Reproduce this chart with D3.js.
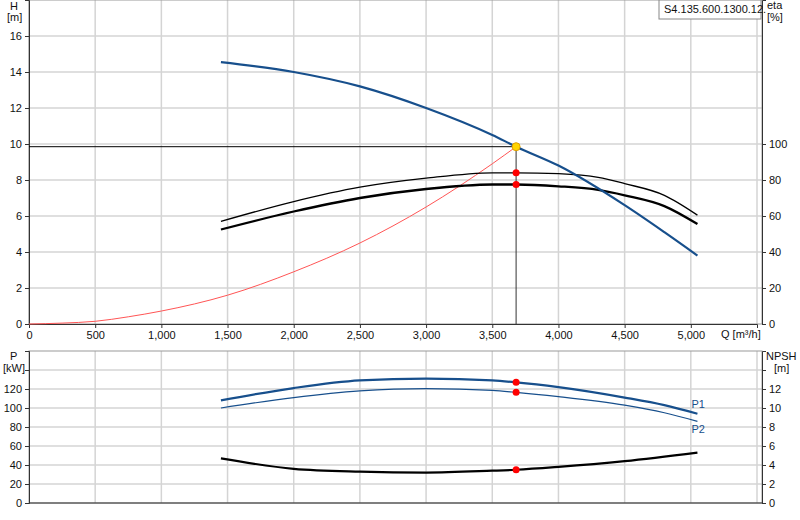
<!DOCTYPE html>
<html><head><meta charset="utf-8">
<script src="https://cdn.jsdelivr.net/npm/d3@7"></script>
<style>
body{margin:0;background:#fff;}
text{font-family:"Liberation Sans",Arial,sans-serif;font-size:11px;fill:#111;}
.grid line{stroke:#d4d4d4;stroke-width:1.5;}
.axis path,.axis line{stroke:#333;}
</style></head><body>
<script>
// data
var qH   = [1450, 2000, 2500, 3000, 3500, 3680, 4000, 4500, 4800, 5050];
var head = [14.55, 14.0, 13.2, 12.0, 10.5, 9.85, 8.8, 6.6, 5.1, 3.8];

var qEta = [1450, 2000, 2500, 3000, 3500, 3680, 4000, 4300, 4500, 4800, 5050];
var etaHyd = [57, 68, 76, 81, 84, 84, 83.5, 81.5, 78, 71.5, 60.5];
var etaTot = [52.5, 62.5, 70, 75, 77.5, 77.5, 76.5, 74.5, 71.5, 65.5, 55.5];

var qSys = [0, 250, 500, 750, 1000, 1500, 2000, 2500, 3000, 3500, 3680];
var hSys = [0, 0.05, 0.15, 0.4, 0.72, 1.6, 2.9, 4.5, 6.5, 8.9, 9.85];

var qP = [1450, 2000, 2500, 3000, 3500, 3680, 4000, 4500, 4800, 5050];
var p1 = [108, 121, 129, 131, 129, 127, 122, 111, 103, 94];
var p2 = [100, 111, 118, 120.5, 118.5, 116.5, 112, 103, 95, 86];
var qN = [1450, 2000, 2500, 3000, 3500, 3680, 4000, 4500, 5050];
var npsh = [4.7, 3.6, 3.3, 3.2, 3.4, 3.5, 3.8, 4.4, 5.3];

var duty = {q: 3680, h: 9.85, eta1: 84, eta2: 77.5, p1: 127, p2: 116.5, npsh: 3.5};
var qTicks = [0, 500, 1000, 1500, 2000, 2500, 3000, 3500, 4000, 4500, 5000];

(function () {
var svg = d3.select("body").append("svg").attr("width", 800).attr("height", 520);

var x = d3.scaleLinear().domain([0, 5500]).range([29, 757]);
var yH = d3.scaleLinear().domain([0, 18]).range([324, 0]);
var yEta = d3.scaleLinear().domain([0, 180]).range([324, 0]);
var yP = d3.scaleLinear().domain([0, 160]).range([503, 351]);
var yN = d3.scaleLinear().domain([0, 16]).range([503, 351]);

function zip(xs, ys){ return xs.map(function(v, i){ return [v, ys[i]]; }); }
var line = function(ys){ return d3.line().curve(d3.curveMonotoneX).x(function(d){ return x(d[0]); }).y(function(d){ return ys(d[1]); }); };

// ----- top panel -----
var topG = svg.append("g");
topG.append("g").attr("class", "grid").selectAll("line").data(qTicks.concat([5500])).enter().append("line")
  .attr("x1", x).attr("x2", x).attr("y1", 0).attr("y2", 324);
topG.append("g").attr("class", "grid").selectAll("line").data(d3.range(2, 18, 2)).enter().append("line")
  .attr("x1", 29).attr("x2", 762).attr("y1", yH).attr("y2", yH);
topG.append("rect").attr("x", 29).attr("y", 0).attr("width", 733).attr("height", 324)
  .attr("fill", "none").attr("stroke", "#999");

topG.append("g").attr("class", "axis").attr("transform", "translate(29,0)")
  .call(d3.axisLeft(yH).tickValues(d3.range(0, 18, 2)).tickSize(4).tickFormat(d3.format("d")));
topG.append("g").attr("class", "axis").attr("transform", "translate(0,324)")
  .call(d3.axisBottom(x).tickValues(qTicks).tickSize(4).tickFormat(d3.format(",")));
topG.append("g").attr("class", "axis").attr("transform", "translate(762,0)")
  .call(d3.axisRight(yEta).tickValues(d3.range(0, 120, 20)).tickSize(4));

topG.append("path").attr("d", line(yH)(zip(qSys, hSys))).attr("fill", "none").attr("stroke", "#ff5555").attr("stroke-width", 1);
topG.append("line").attr("x1", 29).attr("x2", x(duty.q)).attr("y1", yH(duty.h)).attr("y2", yH(duty.h)).attr("stroke", "#000");
topG.append("line").attr("x1", x(duty.q)).attr("x2", x(duty.q)).attr("y1", yH(duty.h)).attr("y2", 324).attr("stroke", "#333");
topG.append("path").attr("d", line(yEta)(zip(qEta, etaHyd))).attr("fill", "none").attr("stroke", "#000").attr("stroke-width", 1.3);
topG.append("path").attr("d", line(yEta)(zip(qEta, etaTot))).attr("fill", "none").attr("stroke", "#000").attr("stroke-width", 2.3);
topG.append("path").attr("d", line(yH)(zip(qH, head))).attr("fill", "none").attr("stroke", "#174f8c").attr("stroke-width", 2.2);

topG.append("circle").attr("cx", x(duty.q)).attr("cy", yEta(duty.eta1)).attr("r", 3.5).attr("fill", "red");
topG.append("circle").attr("cx", x(duty.q)).attr("cy", yEta(duty.eta2)).attr("r", 3.5).attr("fill", "red");
topG.append("circle").attr("cx", x(duty.q)).attr("cy", yH(duty.h)).attr("r", 4).attr("fill", "#ffd400").attr("stroke", "#e0a000");

topG.append("text").attr("x", 10).attr("y", 10).text("H");
topG.append("text").attr("x", 7).attr("y", 21).text("[m]");
topG.append("text").attr("x", 767).attr("y", 9).text("eta");
topG.append("text").attr("x", 767).attr("y", 21).text("[%]");
topG.append("text").attr("x", 721).attr("y", 338).text("Q [m³/h]");
topG.append("rect").attr("x", 659).attr("y", 0).attr("width", 102).attr("height", 19)
  .attr("fill", "#fff").attr("stroke", "#888");
topG.append("text").attr("x", 664).attr("y", 13).text("S4.135.600.1300.12.");

// ----- bottom panel -----
var botG = svg.append("g");
botG.append("g").attr("class", "grid").selectAll("line").data(qTicks.slice(1).concat([5500])).enter().append("line")
  .attr("x1", x).attr("x2", x).attr("y1", 351).attr("y2", 503);
botG.append("g").attr("class", "grid").selectAll("line").data(d3.range(20, 160, 20)).enter().append("line")
  .attr("x1", 29).attr("x2", 762).attr("y1", yP).attr("y2", yP);
botG.append("rect").attr("x", 29).attr("y", 351).attr("width", 733).attr("height", 152)
  .attr("fill", "none").attr("stroke", "#999");
botG.append("g").attr("class", "axis").attr("transform", "translate(29,0)")
  .call(d3.axisLeft(yP).tickValues(d3.range(0, 160, 20)).tickSize(4).tickFormat(function(d){ return d === 140 ? "" : d; }));
botG.append("g").attr("class", "axis").attr("transform", "translate(762,0)")
  .call(d3.axisRight(yN).tickValues(d3.range(0, 16, 2)).tickSize(4).tickFormat(function(d){ return d === 14 ? "" : d; }));
botG.append("line").attr("x1", 29).attr("x2", 762).attr("y1", 503).attr("y2", 503).attr("stroke", "#333");

botG.append("path").attr("d", line(yP)(zip(qP, p1))).attr("fill", "none").attr("stroke", "#174f8c").attr("stroke-width", 2.2);
botG.append("path").attr("d", line(yP)(zip(qP, p2))).attr("fill", "none").attr("stroke", "#174f8c").attr("stroke-width", 1.2);
botG.append("path").attr("d", line(yN)(zip(qN, npsh))).attr("fill", "none").attr("stroke", "#000").attr("stroke-width", 2.2);
[yP(duty.p1), yP(duty.p2), yN(duty.npsh)].forEach(function(cy){
  botG.append("circle").attr("cx", x(duty.q)).attr("cy", cy).attr("r", 3.5).attr("fill", "red");
});
botG.append("text").attr("x", x(5050) - 6).attr("y", yP(p1[p1.length - 1]) - 6).style("fill", "#174f8c").text("P1");
botG.append("text").attr("x", x(5050) - 6).attr("y", yP(p2[p2.length - 1]) + 12).style("fill", "#174f8c").text("P2");

botG.append("text").attr("x", 10).attr("y", 360).text("P");
botG.append("text").attr("x", 3).attr("y", 372).text("[kW]");
botG.append("text").attr("x", 766).attr("y", 360).text("NPSH");
botG.append("text").attr("x", 774).attr("y", 372).text("[m]");
})();
</script>
</body></html>
